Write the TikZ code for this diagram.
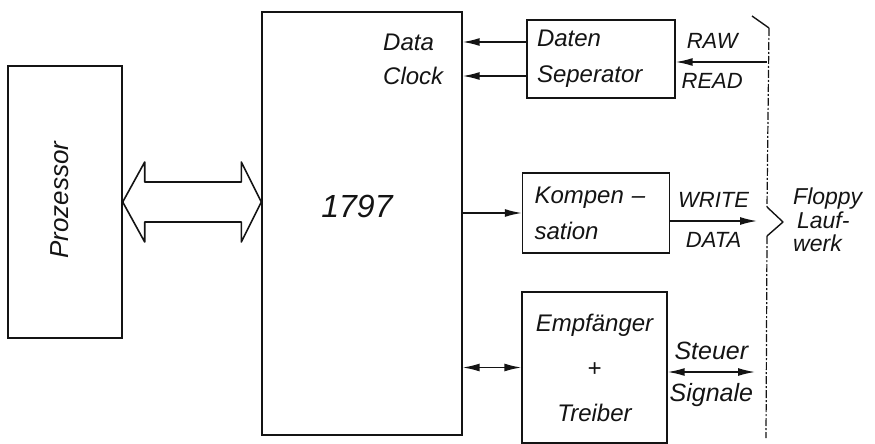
\documentclass[tikz,border=0pt]{standalone}
\usepackage{fontspec}
\setmainfont{Liberation Sans}
\usetikzlibrary{arrows.meta,calc}
\definecolor{fdcInk}{HTML}{141414}
\tikzset{
  fdc/.style={draw=fdcInk,line width=1.4pt,inner sep=0pt},
  fdcbox/.style={fdc,text=fdcInk,align=left,inner xsep=10pt,inner ysep=0pt,
                 font=\fontsize{24}{36}\selectfont\itshape},
  fdctext/.style={text=fdcInk,inner sep=0pt,align=left,font=\fontsize{24}{34}\selectfont\itshape},
  fdclbl/.style={fdctext,font=\fontsize{22}{24}\selectfont\itshape},
  fdcflow/.style={-{Latex[length=17pt,width=8pt]},draw=fdcInk,line width=1.5pt},
  fdcboth/.style={fdcflow,{Latex[length=17pt,width=8pt]}-{Latex[length=17pt,width=8pt]}},
  fdcbus/.style={draw=fdcInk,line width=1.6pt,line join=round},
  fdcbrace/.style={draw=fdcInk,line width=1.2pt,dash pattern=on 8pt off 2pt on 2pt off 2pt},
}

\begin{document}
\begin{tikzpicture}[x=1pt,y=1pt]
  \useasboundingbox (0,0) rectangle (875,-444);
  \node[fdc,minimum width=114,minimum height=272] (proz) at (65,-202) {};
  \node[fdctext,rotate=90,font=\fontsize{26}{30}\selectfont\itshape] (prozlbl) at (60,-200) {Prozessor};
  \node[fdc,minimum width=200,minimum height=423] (chip) at (362,-223.5) {};
  \node[fdctext,font=\fontsize{32}{36}\selectfont\itshape] (chiplbl) at (357,-206) {1797};
  \node[fdctext,anchor=west] (datalbl) at (383,-42) {Data};
  \node[fdctext,anchor=west] (clklbl) at (383,-76) {Clock};

  \node[fdcbox,text width=128,minimum height=78] (dsep) at (601,-59) {Daten\\Seperator};
  \node[fdcbox,text width=123,inner xsep=12pt,minimum height=80] (komp) at (596,-213) {Kompen --\\sation};
  \node[fdcbox,align=center,text width=125,minimum height=151,
        font=\fontsize{24}{45}\selectfont\itshape] (empf) at (594.5,-367.5) {Empf\"anger\\+\\Treiber};

  % bus between processor and controller
  \coordinate (busL) at (proz.east);
  \coordinate (busR) at (chip.west |- proz.east);
  \draw[fdcbus] (busL) -- ++(22,40) -- ++(0,-20) -- ($(busR)+(-20,20)$) -- ++(0,20) -- (busR)
        -- ++(-20,-40) -- ++(0,20) -- ($(busL)+(22,-20)$) -- ++(0,-20) -- cycle;

  \foreach \lbl in {datalbl,clklbl}{\draw[fdcflow] (dsep.west |- \lbl) -- (chip.east |- \lbl);}
  \draw[fdcflow] (chip.east |- komp.west) -- (komp.west);
  \draw[fdcboth] (chip.east |- empf.west) -- (empf.west);

  \coordinate (rawin) at (767,-62);
  \coordinate (wrout) at (757,-221);
  \coordinate (stout) at (755,-372);
  \draw[fdcflow] (rawin) -- node[pos=0.6,fdclbl,above=13pt]{RAW} node[pos=0.6,fdclbl,below=11pt]{READ}
        (dsep.east |- rawin);
  \draw[fdcflow] (komp.east |- wrout) -- node[fdclbl,above=13pt]{WRITE} node[fdclbl,below=11pt]{DATA} (wrout);
  \draw[fdcboth] (empf.east |- stout) -- node[fdclbl,above=12pt,font=\fontsize{25}{27}\selectfont\itshape]{Steuer}
        node[fdclbl,below=11pt,font=\fontsize{25}{27}\selectfont\itshape]{Signale} (stout);

  % drive side brace
  \draw[fdc,line join=round] (752,-16) -- (769,-28);
  \draw[fdcbrace] (769,-28) -- (767,-207);
  \draw[fdc,line join=round] (767,-207) -- (783,-222) -- (767,-236);
  \draw[fdcbrace] (767,-236) -- (766,-438);
  \node[fdctext,anchor=west,font=\fontsize{23}{23.5}\selectfont\itshape] (floppy) at (793,-220)
        {Floppy\\\,Lauf-\\werk};
\end{tikzpicture}
\end{document}
